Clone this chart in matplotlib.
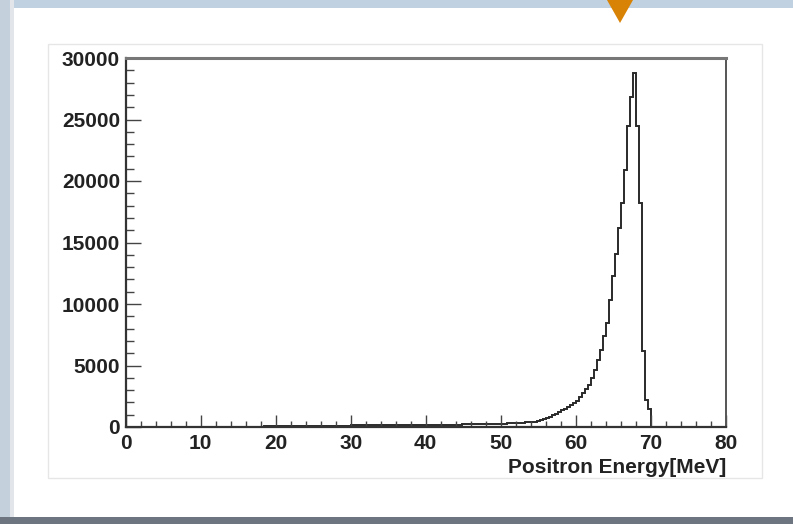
import numpy as np
import matplotlib
matplotlib.use("Agg")
import matplotlib.pyplot as plt
from matplotlib.patches import Rectangle, Polygon
from matplotlib.ticker import MultipleLocator

# ---- data (0.4 MeV bins from 0 to 80 MeV) ----
bin_width = 0.4
x_min, x_max = 0, 80
counts = [
    0, 0, 0, 0, 0,  0, 0, 0, 0, 0,  0, 0, 0, 0, 0,  0, 0, 0, 0, 0,  0, 0, 0, 0, 0,  # 0-10
    1, 2, 2, 3, 3,              # 10-12
    4, 5, 6, 7, 8,              # 12-14
    10, 12, 14, 16, 19,         # 14-16
    22, 25, 28, 32, 36,         # 16-18
    40, 44, 48, 52, 56,         # 18-20
    60, 64, 67, 70, 73,         # 20-22
    76, 79, 82, 85, 88,         # 22-24
    90, 93, 95, 98, 100,        # 24-26
    102, 104, 107, 109, 111,    # 26-28
    113, 115, 117, 119, 121,    # 28-30
    123, 125, 127, 129, 131,    # 30-32
    133, 135, 137, 139, 141,    # 32-34
    143, 145, 147, 149, 151,    # 34-36
    153, 155, 157, 159, 161,    # 36-38
    163, 165, 167, 169, 171,    # 38-40
    173, 175, 177, 180, 182,    # 40-42
    185, 187, 190, 193, 196,    # 42-44
    199, 202, 205, 209, 213,    # 44-46
    217, 221, 225, 230, 235,    # 46-48
    240, 246, 252, 258, 265,    # 48-50
    272, 280, 289, 299, 310,    # 50-52
    322, 336, 352, 370, 390,    # 52-54
    415, 445, 490, 560, 640,    # 54-56
    730, 830, 950, 1080, 1220,  # 56-58
    1360, 1500, 1650, 1800, 1950,   # 58-60
    2150, 2450, 2750, 3080, 3450,   # 60-62
    4000, 4630, 5450, 6300, 7400,   # 62-64
    8450, 10300, 12300, 14100, 16200,   # 64-66
    18200, 20900, 24500, 26800, 28800,  # 66-68
    24500, 18200, 6200, 2200, 1500,     # 68-70
    0, 0, 0, 0, 0,  0, 0, 0, 0, 0,  0, 0, 0, 0, 0,  0, 0, 0, 0, 0,  0, 0, 0, 0, 0,  # 70-80
]
x_ticks = [0, 10, 20, 30, 40, 50, 60, 70, 80]
y_ticks = [0, 5000, 10000, 15000, 20000, 25000, 30000]
x_label = "Positron Energy[MeV]"

edges = np.linspace(x_min, x_max, len(counts) + 1)

W, H = 793, 524
fig = plt.figure(figsize=(W / 100, H / 100), dpi=100)
fig.patch.set_facecolor("white")

def fx(px):
    return px / W

def fy(py):
    return 1 - py / H

# decorative slide background
fig.add_artist(Rectangle((0, fy(8)), 1, 8 / H, transform=fig.transFigure,
                         facecolor="#c0d1e1", edgecolor="none", zorder=0))
fig.add_artist(Rectangle((0, 0), fx(10), 1, transform=fig.transFigure,
                         facecolor="#c4d0dc", edgecolor="none", zorder=0))
fig.add_artist(Rectangle((fx(10), 0), fx(4), 1, transform=fig.transFigure,
                         facecolor="#e2e6ea", edgecolor="none", zorder=0))
fig.add_artist(Rectangle((0, 0), 1, 7 / H, transform=fig.transFigure,
                         facecolor="#6d7680", edgecolor="none", zorder=0))
# orange marker triangle
fig.add_artist(Polygon([(fx(607), fy(0)), (fx(633), fy(0)), (fx(620), fy(23))],
                       closed=True, transform=fig.transFigure,
                       facecolor="#d98306", edgecolor="none", zorder=1))
# light canvas frame
fig.add_artist(Rectangle((fx(48), fy(478)), fx(762 - 48), (478 - 44) / H,
                         transform=fig.transFigure, facecolor="none",
                         edgecolor="#e6e6e6", lw=1.0, zorder=1))

ax = fig.add_axes([fx(125.5), fy(427), fx(726 - 125.5), (427 - 58) / H])
ax.stairs(counts, edges, color="#2a2a2a", lw=1.4)

ax.set_xlim(x_min, x_max)
ax.set_ylim(0, 30000)
ax.set_xticks(x_ticks)
ax.set_yticks(y_ticks)
ax.xaxis.set_minor_locator(MultipleLocator(2))
ax.yaxis.set_minor_locator(MultipleLocator(1000))

font = dict(family="Liberation Sans", weight="bold", size=15)
ax.set_xticklabels([str(t) for t in x_ticks], **font, color="#222222")
ax.set_yticklabels([str(t) for t in y_ticks], **font, color="#222222")

ax.tick_params(axis="x", which="major", direction="in", length=8.5, width=1.0,
               color="#444444", pad=5)
ax.tick_params(axis="x", which="minor", direction="in", length=4, width=1.0,
               color="#444444")
ax.tick_params(axis="y", which="major", direction="in", length=11, width=1.0,
               color="#444444", pad=4)
ax.tick_params(axis="y", which="minor", direction="in", length=5.5, width=1.0,
               color="#444444")

for s in ["left", "bottom"]:
    ax.spines[s].set_color("#333333")
    ax.spines[s].set_linewidth(1.6)
ax.spines["top"].set_color("#777777")
ax.spines["top"].set_linewidth(2.2)
ax.spines["right"].set_color("#555555")
ax.spines["right"].set_linewidth(1.4)

ax.set_xlabel(x_label, **font, color="#222222")
ax.xaxis.set_label_coords(1.0, -0.085)
ax.xaxis.label.set_horizontalalignment("right")

fig.savefig("out.png", dpi=100)
